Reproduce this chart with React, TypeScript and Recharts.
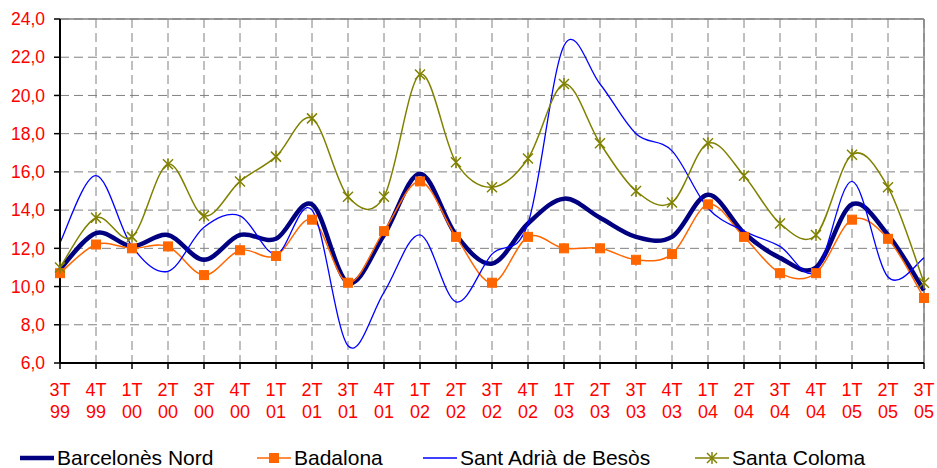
import { LineChart, Line, XAxis, YAxis, CartesianGrid, ReferenceLine, Legend } from 'recharts'

const quarters = ['3T', '4T', '1T', '2T', '3T', '4T', '1T', '2T', '3T', '4T', '1T', '2T', '3T', '4T', '1T', '2T', '3T', '4T', '1T', '2T', '3T', '4T', '1T', '2T', '3T']
const years = ['99', '99', '00', '00', '00', '00', '01', '01', '01', '01', '02', '02', '02', '02', '03', '03', '03', '03', '04', '04', '04', '04', '05', '05', '05']

const barcelonesNord = [10.9, 12.8, 12.1, 12.7, 11.4, 12.7, 12.5, 14.3, 10.2, 12.7, 15.9, 12.7, 11.2, 13.3, 14.6, 13.6, 12.6, 12.6, 14.8, 12.8, 11.5, 11.0, 14.3, 12.7, 9.8]
const badalona = [10.7, 12.2, 12.0, 12.1, 10.6, 11.9, 11.6, 13.5, 10.2, 12.9, 15.5, 12.6, 10.2, 12.6, 12.0, 12.0, 11.4, 11.7, 14.3, 12.6, 10.7, 10.7, 13.5, 12.5, 9.4]
const santAdria = [12.3, 15.8, 12.1, 10.8, 13.1, 13.7, 11.7, 14.0, 6.9, 9.7, 12.7, 9.2, 11.7, 13.3, 22.6, 20.6, 18.0, 17.1, 14.1, 12.9, 12.1, 10.8, 15.5, 10.5, 11.5]
const santaColoma = [11.0, 13.6, 12.6, 16.4, 13.7, 15.5, 16.8, 18.8, 14.7, 14.7, 21.1, 16.5, 15.2, 16.7, 20.6, 17.5, 15.0, 14.4, 17.5, 15.8, 13.3, 12.7, 16.9, 15.2, 10.2]

const yTicks = [6, 8, 10, 12, 14, 16, 18, 20, 22, 24]

const data = quarters.map((q, i) => ({
  label: `${q}\n${years[i]}`,
  bn: barcelonesNord[i],
  bad: badalona[i],
  sa: santAdria[i],
  sc: santaColoma[i],
}))

const FONT = '"Liberation Sans", Arial, sans-serif'

// smoothed line like the spreadsheet one (catmull-rom through the points)
const smooth = (context: any) => {
  let pts: number[][] = []
  return {
    areaStart() {},
    areaEnd() {},
    lineStart() {
      pts = []
    },
    point(x: number, y: number) {
      pts.push([+x, +y])
    },
    lineEnd() {
      const n = pts.length
      if (!n) return
      context.moveTo(pts[0][0], pts[0][1])
      for (let i = 0; i < n - 1; i++) {
        const p0 = pts[Math.max(i - 1, 0)]
        const p1 = pts[i]
        const p2 = pts[i + 1]
        const p3 = pts[Math.min(i + 2, n - 1)]
        context.bezierCurveTo(
          p1[0] + (p2[0] - p0[0]) / 6,
          p1[1] + (p2[1] - p0[1]) / 6,
          p2[0] - (p3[0] - p1[0]) / 6,
          p2[1] - (p3[1] - p1[1]) / 6,
          p2[0],
          p2[1]
        )
      }
    },
  }
}

const Square = ({ cx, cy, color }: any) => (
  <rect x={cx - 4.5} y={cy - 4.5} width={9} height={9} fill={color} stroke={color} />
)

const Star = ({ cx, cy, color }: any) => (
  <g stroke={color} strokeWidth={1.5} fill="none">
    <line x1={cx - 5} y1={cy - 5} x2={cx + 5} y2={cy + 5} />
    <line x1={cx - 5} y1={cy + 5} x2={cx + 5} y2={cy - 5} />
    <line x1={cx} y1={cy - 6} x2={cx} y2={cy + 6} />
  </g>
)

const XTick = ({ x, y, payload }: any) => {
  const [q, yr] = String(payload.value).split('\n')
  return (
    <text x={x} textAnchor="middle" fill="#ff0000" fontSize={18} fontFamily={FONT}>
      <tspan x={x} y={y + 27}>{q}</tspan>
      <tspan x={x} y={y + 49}>{yr}</tspan>
    </text>
  )
}

const legendItems = [
  { name: 'Barcelonès Nord', color: '#000080', width: 4.5, marker: 'none', left: 20 },
  { name: 'Badalona', color: '#ff6600', width: 1.5, marker: 'square', left: 257 },
  { name: 'Sant Adrià de Besòs', color: '#0000ff', width: 1.5, marker: 'none', left: 423 },
  { name: 'Santa Coloma', color: '#808000', width: 1.5, marker: 'star', left: 695 },
]

const LegendBox = () => (
  <div style={{ position: 'relative', width: 937, height: 24, fontFamily: FONT, fontSize: 21, color: '#000' }}>
    {legendItems.map((it) => (
      <div
        key={it.name}
        style={{ position: 'absolute', left: it.left, top: 0, display: 'flex', alignItems: 'center', lineHeight: '24px' }}
      >
        <svg width={34} height={14} style={{ marginRight: 3 }}>
          <line x1={0} y1={7} x2={34} y2={7} stroke={it.color} strokeWidth={it.width} />
          {it.marker === 'square' && <Square cx={17} cy={7} color={it.color} />}
          {it.marker === 'star' && <Star cx={17} cy={7} color={it.color} />}
        </svg>
        <span>{it.name}</span>
      </div>
    ))}
  </div>
)

export default function App() {
  return (
    <div style={{ position: 'absolute', left: 0, top: 0, width: 937, height: 468, background: '#fff' }}>
      <LineChart width={937} height={468} data={data} margin={{ top: 19, right: 13, bottom: 0, left: 0 }}>
        <CartesianGrid stroke="#808080" strokeDasharray="9 5" />
        <ReferenceLine y={24} stroke="#808080" strokeWidth={1.5} />
        <ReferenceLine x={data[data.length - 1].label} stroke="#808080" strokeWidth={1.5} />
        <XAxis
          dataKey="label"
          scale="point"
          padding={{ left: 0, right: 0 }}
          height={105}
          interval={0}
          tickSize={6}
          tickMargin={0}
          axisLine={{ stroke: '#000', strokeWidth: 2 }}
          tickLine={{ stroke: '#000', strokeWidth: 1.5 }}
          tick={<XTick />}
        />
        <YAxis
          width={60}
          domain={[6, 24]}
          ticks={yTicks}
          interval={0}
          tickSize={6}
          tickMargin={9}
          axisLine={{ stroke: '#000', strokeWidth: 2 }}
          tickLine={{ stroke: '#000', strokeWidth: 1.5 }}
          tick={{ fill: '#ff0000', fontSize: 17.5, fontFamily: FONT }}
          tickFormatter={(v: number) => v.toFixed(1).replace('.', ',')}
        />
        <Legend verticalAlign="middle" layout="horizontal" wrapperStyle={{ top: 446, left: 0, width: 937 }} content={<LegendBox />} />
        <Line
          type={smooth as any}
          dataKey="bn"
          name="Barcelonès Nord"
          stroke="#000080"
          strokeWidth={4.5}
          dot={false}
          isAnimationActive={false}
        />
        <Line
          type={smooth as any}
          dataKey="bad"
          name="Badalona"
          stroke="#ff6600"
          strokeWidth={1.5}
          dot={(p: any) => <Square key={`b${p.index}`} cx={p.cx} cy={p.cy} color="#ff6600" />}
          isAnimationActive={false}
        />
        <Line
          type={smooth as any}
          dataKey="sa"
          name="Sant Adrià de Besòs"
          stroke="#0000ff"
          strokeWidth={1.3}
          dot={false}
          isAnimationActive={false}
        />
        <Line
          type={smooth as any}
          dataKey="sc"
          name="Santa Coloma"
          stroke="#808000"
          strokeWidth={1.5}
          dot={(p: any) => <Star key={`s${p.index}`} cx={p.cx} cy={p.cy} color="#808000" />}
          isAnimationActive={false}
        />
      </LineChart>
    </div>
  )
}
